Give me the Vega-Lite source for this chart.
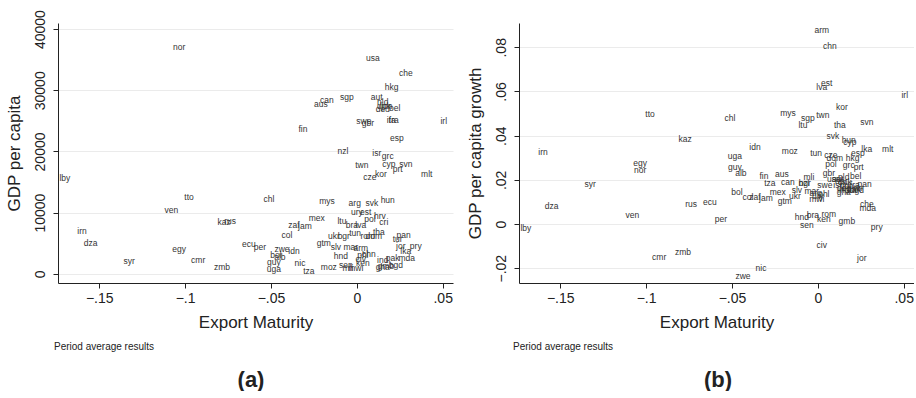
{
  "$schema": "https://vega.github.io/schema/vega-lite/v6.json",
  "background": "white",
  "padding": {"left": 5, "top": 9, "right": 0, "bottom": 0},
  "spacing": 12,
  "config": {
    "font": "Liberation Sans",
    "view": {"stroke": null},
    "axis": {
      "domainColor": "#222222",
      "tickColor": "#222222",
      "labelColor": "#222222",
      "titleColor": "#222222",
      "labelFont": "Liberation Sans Narrow, Liberation Sans",
      "titleFont": "Liberation Sans Narrow, Liberation Sans",
      "labelFontSize": 14,
      "titleFontSize": 17,
      "titleFontWeight": "normal",
      "gridColor": "#ebebeb",
      "tickSize": 5,
      "labelPadding": 3
    },
    "axisY": {"labelPadding": 6, "titlePadding": 10},
    "axisX": {"titlePadding": 9},
    "title": {"color": "#222222"}
  },
  "datasets": {
    "d": [
      {"c": "nor", "em": -0.1035, "gdp": 37030, "gr": 0.0244},
      {"c": "usa", "em": 0.0093, "gdp": 35240, "gr": 0.0204},
      {"c": "che", "em": 0.0285, "gdp": 32790, "gr": 0.009},
      {"c": "hkg", "em": 0.0203, "gdp": 30500, "gr": 0.0299},
      {"c": "can", "em": -0.0174, "gdp": 28380, "gr": 0.019},
      {"c": "aus", "em": -0.0209, "gdp": 27730, "gr": 0.0226},
      {"c": "sgp", "em": -0.0058, "gdp": 28870, "gr": 0.048},
      {"c": "aut", "em": 0.0116, "gdp": 28870, "gr": 0.0205},
      {"c": "nld", "em": 0.0151, "gdp": 28060, "gr": 0.0213},
      {"c": "dnk", "em": 0.0157, "gdp": 27400, "gr": 0.019},
      {"c": "jpn", "em": 0.0175, "gdp": 27500, "gr": 0.017},
      {"c": "deu", "em": 0.0151, "gdp": 26920, "gr": 0.0165},
      {"c": "bel", "em": 0.0221, "gdp": 27080, "gr": 0.0217},
      {"c": "ita", "em": 0.02, "gdp": 25120, "gr": 0.0155},
      {"c": "fra", "em": 0.0215, "gdp": 25120, "gr": 0.0175},
      {"c": "swe", "em": 0.0041, "gdp": 24960, "gr": 0.0176},
      {"c": "gbr", "em": 0.0064, "gdp": 24630, "gr": 0.0231},
      {"c": "irl", "em": 0.0506, "gdp": 24960, "gr": 0.0584},
      {"c": "fin", "em": -0.0314, "gdp": 23650, "gr": 0.0217},
      {"c": "esp", "em": 0.0233, "gdp": 22190, "gr": 0.0321},
      {"c": "nzl", "em": -0.0081, "gdp": 20070, "gr": 0.0186},
      {"c": "isr", "em": 0.0116, "gdp": 19740, "gr": 0.0178},
      {"c": "grc", "em": 0.018, "gdp": 19250, "gr": 0.0267},
      {"c": "twn", "em": 0.0029, "gdp": 17780, "gr": 0.0493},
      {"c": "cyp", "em": 0.0186, "gdp": 17940, "gr": 0.0371},
      {"c": "svn", "em": 0.0285, "gdp": 17940, "gr": 0.0462},
      {"c": "prt", "em": 0.0238, "gdp": 17130, "gr": 0.0258},
      {"c": "cze", "em": 0.0076, "gdp": 15820, "gr": 0.0312},
      {"c": "kor", "em": 0.014, "gdp": 16310, "gr": 0.0529},
      {"c": "mlt", "em": 0.0407, "gdp": 16310, "gr": 0.0339},
      {"c": "lby", "em": -0.17, "gdp": 15660, "gr": -0.0018},
      {"c": "tto", "em": -0.0977, "gdp": 12560, "gr": 0.0498},
      {"c": "chl", "em": -0.0512, "gdp": 12230, "gr": 0.048},
      {"c": "mys", "em": -0.0174, "gdp": 11910, "gr": 0.0502},
      {"c": "arg", "em": -0.0012, "gdp": 11580, "gr": 0.014},
      {"c": "svk", "em": 0.0087, "gdp": 11580, "gr": 0.0398},
      {"c": "hun", "em": 0.018, "gdp": 12070, "gr": 0.038},
      {"c": "ven", "em": -0.108, "gdp": 10440, "gr": 0.0041},
      {"c": "ury", "em": 0.0, "gdp": 10110, "gr": 0.0125},
      {"c": "est", "em": 0.0052, "gdp": 10110, "gr": 0.0638},
      {"c": "pol", "em": 0.0076, "gdp": 8970, "gr": 0.0271},
      {"c": "hrv", "em": 0.0134, "gdp": 9460, "gr": 0.0195},
      {"c": "cri", "em": 0.0157, "gdp": 8480, "gr": 0.0175},
      {"c": "mex", "em": -0.0233, "gdp": 9140, "gr": 0.0145},
      {"c": "ltu", "em": -0.0087, "gdp": 8650, "gr": 0.0448},
      {"c": "bra", "em": -0.0029, "gdp": 7990, "gr": 0.0041},
      {"c": "lva", "em": 0.0023, "gdp": 7990, "gr": 0.062},
      {"c": "kaz", "em": -0.0773, "gdp": 8480, "gr": 0.0385},
      {"c": "rus", "em": -0.0738, "gdp": 8650, "gr": 0.009},
      {"c": "zaf", "em": -0.0366, "gdp": 7990, "gr": 0.0122},
      {"c": "jam", "em": -0.0302, "gdp": 7830, "gr": 0.0118},
      {"c": "irn", "em": -0.16, "gdp": 7010, "gr": 0.0326},
      {"c": "col", "em": -0.0407, "gdp": 6360, "gr": 0.0122},
      {"c": "ukr", "em": -0.0134, "gdp": 6200, "gr": 0.0127},
      {"c": "bgr", "em": -0.0076, "gdp": 6200, "gr": 0.0186},
      {"c": "tun", "em": -0.001, "gdp": 6690, "gr": 0.0321},
      {"c": "rom", "em": 0.0064, "gdp": 6200, "gr": 0.0045},
      {"c": "dom", "em": 0.0099, "gdp": 6200, "gr": 0.0299},
      {"c": "tha", "em": 0.0128, "gdp": 6850, "gr": 0.0448},
      {"c": "pan", "em": 0.0273, "gdp": 6360, "gr": 0.0181},
      {"c": "tur", "em": 0.0238, "gdp": 5710, "gr": 0.0165},
      {"c": "dza", "em": -0.155, "gdp": 5060, "gr": 0.0081},
      {"c": "egy", "em": -0.1035, "gdp": 4080, "gr": 0.0276},
      {"c": "ecu", "em": -0.0628, "gdp": 4890, "gr": 0.01},
      {"c": "per", "em": -0.0564, "gdp": 4400, "gr": 0.0023},
      {"c": "zwe", "em": -0.0436, "gdp": 4080, "gr": -0.0235},
      {"c": "idn", "em": -0.0366, "gdp": 3750, "gr": 0.0348},
      {"c": "gtm", "em": -0.0192, "gdp": 5060, "gr": 0.0104},
      {"c": "slv", "em": -0.0122, "gdp": 4400, "gr": 0.0154},
      {"c": "mar", "em": -0.0035, "gdp": 4400, "gr": 0.015},
      {"c": "arm", "em": 0.0023, "gdp": 4240, "gr": 0.0878},
      {"c": "jor", "em": 0.0256, "gdp": 4570, "gr": -0.0154},
      {"c": "pry", "em": 0.0343, "gdp": 4570, "gr": -0.0014},
      {"c": "lka", "em": 0.0285, "gdp": 3750, "gr": 0.0339},
      {"c": "bol", "em": -0.0471, "gdp": 3100, "gr": 0.0145},
      {"c": "alb", "em": -0.0448, "gdp": 2770, "gr": 0.0231},
      {"c": "guy", "em": -0.0483, "gdp": 1960, "gr": 0.0258},
      {"c": "uga", "em": -0.0483, "gdp": 820, "gr": 0.0308},
      {"c": "syr", "em": -0.1326, "gdp": 2120, "gr": 0.0181},
      {"c": "cmr", "em": -0.0924, "gdp": 2280, "gr": -0.0149},
      {"c": "zmb", "em": -0.0785, "gdp": 1140, "gr": -0.0127},
      {"c": "nic", "em": -0.0331, "gdp": 1790, "gr": -0.0199},
      {"c": "tza", "em": -0.0279, "gdp": 490, "gr": 0.0186},
      {"c": "hnd", "em": -0.0093, "gdp": 2940, "gr": 0.0032},
      {"c": "phl", "em": 0.0035, "gdp": 3100, "gr": 0.0136},
      {"c": "chn", "em": 0.007, "gdp": 3260, "gr": 0.0805},
      {"c": "civ", "em": 0.0023, "gdp": 2450, "gr": -0.0095},
      {"c": "ind", "em": 0.0151, "gdp": 2280, "gr": 0.0155},
      {"c": "pak", "em": 0.0209, "gdp": 2610, "gr": 0.016},
      {"c": "mda", "em": 0.0291, "gdp": 2610, "gr": 0.0072},
      {"c": "moz", "em": -0.0163, "gdp": 1140, "gr": 0.033},
      {"c": "sen", "em": -0.0064, "gdp": 1470, "gr": -0.0005},
      {"c": "mli", "em": -0.0052, "gdp": 980, "gr": 0.0213},
      {"c": "mwi", "em": -0.0006, "gdp": 980, "gr": 0.0113},
      {"c": "ken", "em": 0.0035, "gdp": 1790, "gr": 0.0023},
      {"c": "gha", "em": 0.0151, "gdp": 1140, "gr": 0.0145},
      {"c": "gmb", "em": 0.0169, "gdp": 1300, "gr": 0.0014},
      {"c": "bgd", "em": 0.0227, "gdp": 1470, "gr": 0.0155}
    ]
  },
  "hconcat": [
    {
      "title": {"text": "(a)", "orient": "bottom", "anchor": "middle", "fontSize": 22, "fontWeight": "bold", "font": "Liberation Sans", "offset": 18, "dx": 22},
      "vconcat": [
        {
          "width": 395,
          "height": 260,
          "data": {"name": "d"},
          "title": {"text": "Period average results", "orient": "bottom", "anchor": "start", "frame": "group", "fontSize": 10, "fontWeight": "normal", "font": "Liberation Sans Narrow, Liberation Sans", "offset": 12, "dx": -4},
          "mark": {"type": "text", "fontSize": 8.5, "color": "#333333", "font": "Liberation Sans"},
          "encoding": {
            "x": {"field": "em", "type": "quantitative", "scale": {"domain": [-0.174, 0.056], "nice": false, "zero": false},
                  "axis": {"values": [-0.15, -0.1, -0.05, 0, 0.05], "grid": false, "title": "Export Maturity", "labelExpr": "replace(format(datum.value, '~g'), '0.', '.')"}},
            "y": {"field": "gdp", "type": "quantitative", "scale": {"domain": [-1500, 41000], "nice": false, "zero": false},
                  "axis": {"values": [0, 10000, 20000, 30000, 40000], "grid": true, "title": "GDP per capita", "format": "d", "labelAngle": -90, "labelAlign": "center", "labelBaseline": "bottom"}},
            "text": {"field": "c"}
          }
        }
      ]
    },
    {
      "title": {"text": "(b)", "orient": "bottom", "anchor": "middle", "fontSize": 22, "fontWeight": "bold", "font": "Liberation Sans", "offset": 18, "dx": 28},
      "vconcat": [
        {
          "width": 395,
          "height": 260,
          "data": {"name": "d"},
          "title": {"text": "Period average results", "orient": "bottom", "anchor": "start", "frame": "group", "fontSize": 10, "fontWeight": "normal", "font": "Liberation Sans Narrow, Liberation Sans", "offset": 12, "dx": -6},
          "mark": {"type": "text", "fontSize": 8.5, "color": "#333333", "font": "Liberation Sans"},
          "encoding": {
            "x": {"field": "em", "type": "quantitative", "scale": {"domain": [-0.174, 0.056], "nice": false, "zero": false},
                  "axis": {"values": [-0.15, -0.1, -0.05, 0, 0.05], "grid": false, "title": "Export Maturity", "labelExpr": "replace(format(datum.value, '~g'), '0.', '.')"}},
            "y": {"field": "gr", "type": "quantitative", "scale": {"domain": [-0.0267, 0.091], "nice": false, "zero": false},
                  "axis": {"values": [-0.02, 0, 0.02, 0.04, 0.06, 0.08], "grid": true, "title": "GDP per capita growth", "labelAngle": -90, "labelAlign": "center", "labelBaseline": "bottom", "labelExpr": "replace(format(datum.value, '~g'), '0.', '.')"}},
            "text": {"field": "c"}
          }
        }
      ]
    }
  ]
}
